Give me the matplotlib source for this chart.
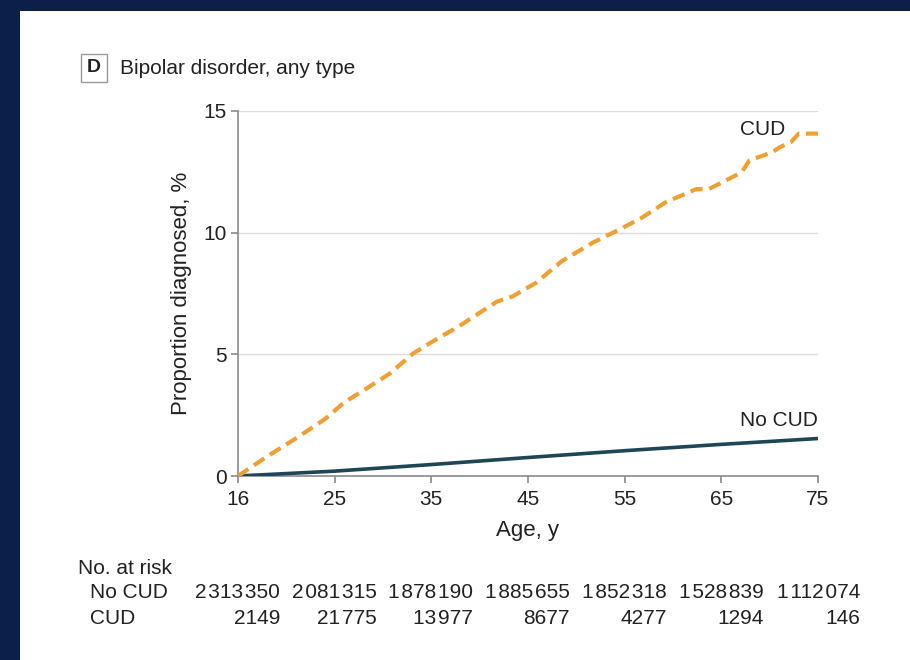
import numpy as np
import matplotlib.pyplot as plt
from matplotlib.patches import Rectangle
import matplotlib.transforms as mtransforms

# 資料
cud_age = [16, 18.8, 21.3, 24.1, 26.0, 28.0, 30.7, 33.1, 35.1, 37.8, 40.2, 41.8, 43.4,
           45.8, 48.5, 51.7, 54.8, 56.8, 59.2, 62.4, 63.7, 65.1, 67.1, 67.9, 70.3,
           71.0, 72.2, 73.0, 75.0]
cud_pct = [0, 0.83, 1.52, 2.34, 3.03, 3.52, 4.21, 5.03, 5.52, 6.14, 6.76, 7.17, 7.38,
           7.93, 8.83, 9.59, 10.2, 10.62, 11.24, 11.79, 11.79, 12.07, 12.48, 12.97, 13.31,
           13.5, 13.72, 14.07, 14.07]
nocud_age = [16, 25, 35, 45, 55, 65, 75]
nocud_pct = [0, 0.2, 0.47, 0.76, 1.04, 1.3, 1.54]

x_ticks = [16, 25, 35, 45, 55, 65, 75]
y_ticks = [0, 5, 10, 15]
risk_nocud = ['2\u200a313\u200a350', '2\u200a081\u200a315', '1\u200a878\u200a190', '1\u200a885\u200a655',
              '1\u200a852\u200a318', '1\u200a528\u200a839', '1\u200a112\u200a074']
risk_cud = ['2149', '21\u200a775', '13\u200a977', '8677', '4277', '1294', '146']

plt.rcParams['font.family'] = ['Liberation Sans', 'DejaVu Sans']

NAVY = '#0b1f4a'
ORANGE = '#f0a033'
TEAL = '#1f4657'
TXT = '#222222'


# 16–25 這段在原圖跟其他段等寬
def fwd(x):
    x = np.asarray(x, dtype=float)
    return np.where(x < 25, 25 - (25 - x) * 10 / 9, x)


def inv(x):
    x = np.asarray(x, dtype=float)
    return np.where(x < 25, 25 - (25 - x) * 9 / 10, x)


fig = plt.figure(figsize=(9.1, 6.6), dpi=100)
fig.patch.set_facecolor(NAVY)
fig.add_artist(Rectangle((20 / 910, 0), 1, (660 - 11) / 660, transform=fig.transFigure,
                         facecolor='white', edgecolor='none', zorder=0))

ax = fig.add_axes([238 / 910, 1 - 476 / 660, 580 / 910, 365 / 660])
ax.set_facecolor('none')
ax.set_xscale('function', functions=(fwd, inv))

ax.plot(nocud_age, nocud_pct, color=TEAL, lw=2.6, solid_capstyle='butt', zorder=3)
ax.plot(cud_age, cud_pct, color=ORANGE, lw=3, linestyle=(0, (3, 1.6)), zorder=4)

ax.set_xlim(16, 75)
ax.set_ylim(0, 15)
ax.set_xticks(x_ticks)
ax.set_xticklabels([str(t) for t in x_ticks])
ax.minorticks_off()
ax.set_yticks(y_ticks)
for y in y_ticks[1:]:
    ax.axhline(y, color='#dcdcdc', lw=1, zorder=1)

for s in ['top', 'right']:
    ax.spines[s].set_visible(False)
for s in ['left', 'bottom']:
    ax.spines[s].set_color('#8a8a8a')
    ax.spines[s].set_linewidth(1.2)
ax.tick_params(axis='both', colors='#8a8a8a', length=5, width=1.2, labelsize=15,
               labelcolor=TXT, pad=3)
ax.tick_params(axis='x', pad=5)

ax.set_xlabel('Age, y', fontsize=16, color=TXT, labelpad=8)
ax.set_ylabel('Proportion diagnosed, %', fontsize=16, color=TXT, labelpad=8)

ax.text(71.6, 14.25, 'CUD', fontsize=15, color=TXT, ha='right', va='center')
ax.text(75, 2.3, 'No CUD', fontsize=15, color=TXT, ha='right', va='center')

# 標題
fig.text(94 / 910, 1 - 68 / 660, 'D', fontsize=14, fontweight='bold', color=TXT,
         ha='center', va='center',
         bbox=dict(boxstyle='square,pad=0.3', facecolor='white', edgecolor='#999999', lw=1))
fig.text(120 / 910, 1 - 69 / 660, 'Bipolar disorder, any type', fontsize=15, color=TXT,
         ha='left', va='center')

# 風險人數表
fig.text(78 / 910, 1 - 568 / 660, 'No. at risk', fontsize=15, color=TXT, va='center')
fig.text(90 / 910, 1 - 593 / 660, 'No CUD', fontsize=15, color=TXT, va='center')
fig.text(90 / 910, 1 - 619 / 660, 'CUD', fontsize=15, color=TXT, va='center')
blend = mtransforms.blended_transform_factory(ax.transData, fig.transFigure)
trans = mtransforms.offset_copy(blend, fig=fig, x=42, y=0, units='dots')
for xt, a, b in zip(x_ticks, risk_nocud, risk_cud):
    ax.text(xt, 1 - 593 / 660, a, transform=trans, fontsize=15, color=TXT,
            ha='right', va='center', clip_on=False)
    ax.text(xt, 1 - 619 / 660, b, transform=trans, fontsize=15, color=TXT,
            ha='right', va='center', clip_on=False)

fig.savefig('out.png', dpi=100, facecolor=fig.get_facecolor())
